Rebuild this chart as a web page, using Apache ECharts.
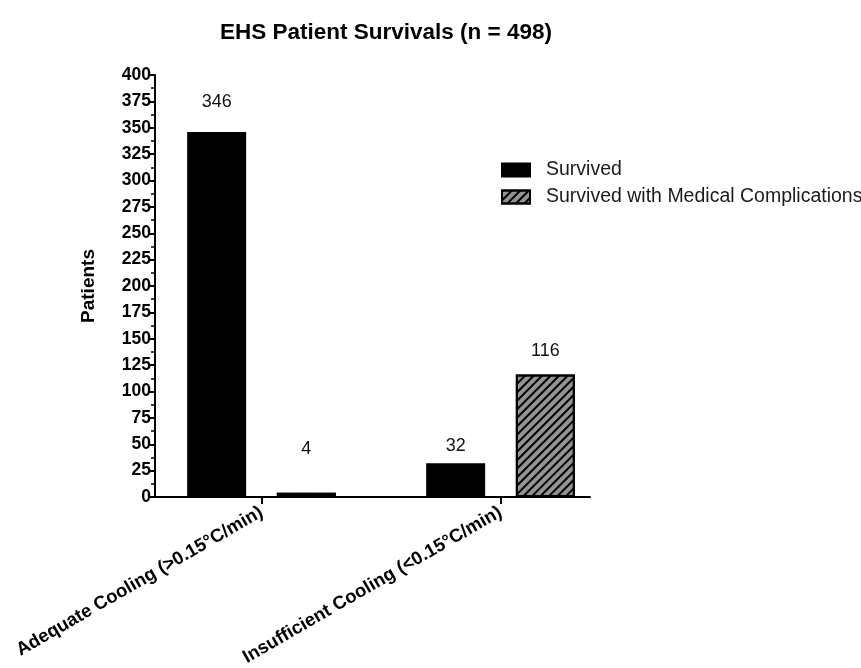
<!DOCTYPE html>
<html><head><meta charset="utf-8">
<script src="https://cdn.jsdelivr.net/npm/echarts@6/dist/echarts.min.js"></script>
<style>html,body{margin:0;padding:0;background:#fff}#c{width:861px;height:668px}</style>
</head><body><div id="c"></div>
<script>
const categories = ['Adequate Cooling (>0.15°C/min)', 'Insufficient Cooling (<0.15°C/min)'];
const seriesNames = ['Survived', 'Survived with Medical Complications'];
const survived = [346, 32];
const complications = [4, 116];
const yTicks = [0, 25, 50, 75, 100, 125, 150, 175, 200, 225, 250, 275, 300, 325, 350, 375, 400];

const font = 'Liberation Sans, Arial, Helvetica, sans-serif';
const chart = echarts.init(document.getElementById('c'));
const labelDist = [[21, 8], [35, 15]];
function mk(vals, si) {
  return vals.map((v, i) => ({ value: [i, v], label: { distance: labelDist[si][i] } }));
}
chart.setOption({
  animation: false,
  title: { text: 'EHS Patient Survivals (n = 498)', left: 381, textAlign: 'center', top: 16,
    textStyle: { fontFamily: font, fontSize: 22.5, fontWeight: 'bold', color: '#000' } },
  legend: { orient: 'vertical', left: 496, top: 155, itemWidth: 28, itemHeight: 13, itemGap: 7,
    icon: 'rect',
    textStyle: { fontFamily: font, fontSize: 19.5, color: '#1a1a1a', padding: [0, 0, 0, 11] }, data: seriesNames },
  grid: { left: 155, right: 271, top: 75, bottom: 171, containLabel: false, outerBoundsMode: 'none' },
  xAxis: { type: 'value', min: -0.4456, max: 1.3745,
    splitLine: { show: false },
    axisLine: { show: true, onZero: false, lineStyle: { color: '#000', width: 2 } },
    axisTick: { show: true, customValues: [0, 1], length: 7, lineStyle: { color: '#000', width: 2 } },
    axisLabel: { customValues: [0, 1], rotate: 30, margin: 14, formatter: v => categories[Math.round(v)] || '',
      fontFamily: font, fontSize: 18.5, fontWeight: 'bold', color: '#000' } },
  yAxis: { type: 'value', min: 0, max: 400, interval: 25,
    name: 'Patients', nameLocation: 'middle', nameGap: 57, nameRotate: 90,
    nameTextStyle: { fontFamily: font, fontSize: 19, fontWeight: 'bold', color: '#000' },
    splitLine: { show: false },
    axisLine: { show: true, onZero: false, lineStyle: { color: '#000', width: 2 } },
    axisTick: { show: true, length: 6, lineStyle: { color: '#000', width: 2 } },
    minorTick: { show: true, splitNumber: 2, length: 4, lineStyle: { color: '#000', width: 1.5 } },
    axisLabel: { margin: 4, fontFamily: font, fontSize: 17.5, fontWeight: 'bold', color: '#000',
      formatter: v => yTicks.includes(v) ? String(v) : '' } },
  series: [
    { name: seriesNames[0], type: 'bar', barWidth: 59, barGap: '52%', data: mk(survived, 0),
      itemStyle: { color: '#000', borderColor: '#000', borderWidth: 2 },
      label: { show: true, position: 'top', fontFamily: font, fontSize: 18, color: '#111' } },
    { name: seriesNames[1], type: 'bar', barWidth: 59, barGap: '52%', data: mk(complications, 1),
      itemStyle: { color: '#939393', borderColor: '#000', borderWidth: 2,
        decal: { symbol: 'rect', color: '#000', dashArrayX: [1, 0], dashArrayY: [1.6, 3.4], rotation: -Math.PI / 4, symbolSize: 1 } },
      label: { show: true, position: 'top', fontFamily: font, fontSize: 18, color: '#111' } }
  ]
});
</script></body></html>
